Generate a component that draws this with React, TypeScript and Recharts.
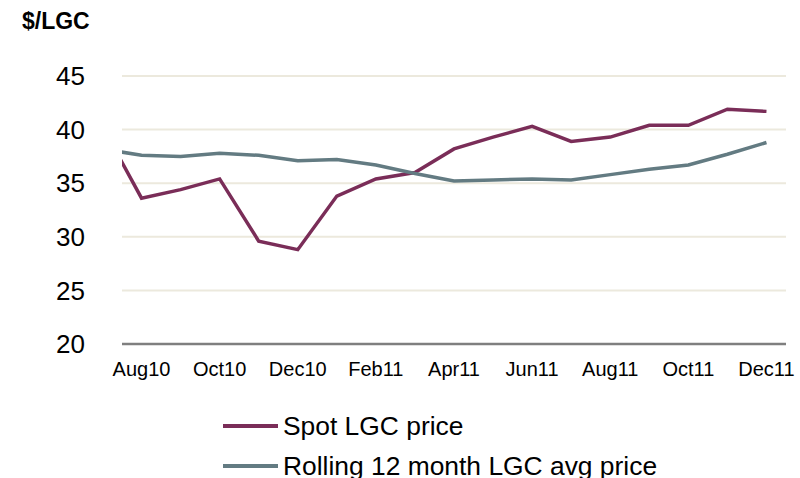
import { CartesianGrid, Line, LineChart, XAxis, YAxis } from "recharts";

// Jul10 sits just left of the plot and is clipped, so only the tail of its segment shows
const months = [
    "Jul10", "Aug10", "Sep10", "Oct10", "Nov10", "Dec10", "Jan11", "Feb11", "Mar11",
    "Apr11", "May11", "Jun11", "Jul11", "Aug11", "Sep11", "Oct11", "Nov11", "Dec11",
];
const spotPrice = [
    40.3, 33.6, 34.4, 35.4, 29.6, 28.8, 33.8, 35.4, 36.0,
    38.2, 39.3, 40.3, 38.9, 39.3, 40.4, 40.4, 41.9, 41.7,
];
const rollingAvg = [
    38.2, 37.6, 37.5, 37.8, 37.6, 37.1, 37.2, 36.7, 35.9,
    35.2, 35.3, 35.4, 35.3, 35.8, 36.3, 36.7, 37.7, 38.8,
];
const yTicks = [20, 25, 30, 35, 40, 45];
const xTicks = [0, 2, 4, 6, 8, 10, 12, 14, 16];

const series = [
    { key: "spot", name: "Spot LGC price", color: "#7a2d58" },
    { key: "rolling", name: "Rolling 12 month LGC avg price", color: "#637b82" },
];

const data = months.map((m, i) => ({
    idx: i - 1,
    month: m,
    spot: spotPrice[i],
    rolling: rollingAvg[i],
}));

const font = "'Liberation Sans', Arial, sans-serif";

export default function App() {
    return (
        <div style={{ position: "absolute", left: 0, top: 0, width: 800, height: 478, background: "#fff", fontFamily: font, overflow: "hidden" }}>
            <div style={{ position: "absolute", left: 22, top: 8, fontSize: 23, fontWeight: "bold", color: "#000" }}>
                $/LGC
            </div>
            <LineChart width={800} height={478} data={data} margin={{ top: 76, right: 14, bottom: 104, left: 0 }}>
                <CartesianGrid vertical={false} stroke="#ece9dd" strokeWidth={2} />
                <XAxis
                    dataKey="idx"
                    type="number"
                    domain={[-0.5, 16.5]}
                    allowDataOverflow
                    ticks={xTicks}
                    tickFormatter={(v: number) => months[v + 1]}
                    axisLine={{ stroke: "#7f7f7f", strokeWidth: 2.5 }}
                    tickLine={false}
                    tickSize={0}
                    tickMargin={18}
                    height={30}
                    tick={{ fontSize: 20, fill: "#000", fontFamily: font }}
                    interval={0}
                />
                <YAxis
                    domain={[20, 45]}
                    ticks={yTicks}
                    axisLine={false}
                    tickLine={false}
                    tickSize={0}
                    tickMargin={37}
                    width={122}
                    tick={{ fontSize: 26, fill: "#000", fontFamily: font }}
                />
                {series.map((s) => (
                    <Line
                        key={s.key}
                        dataKey={s.key}
                        name={s.name}
                        stroke={s.color}
                        strokeWidth={3.5}
                        dot={false}
                        activeDot={false}
                        type="linear"
                        isAnimationActive={false}
                    />
                ))}
            </LineChart>
            {series.map((s, i) => (
                <div
                    key={s.key}
                    style={{
                        position: "absolute",
                        left: 223,
                        top: 406 + i * 40,
                        height: 40,
                        lineHeight: "40px",
                        display: "flex",
                        alignItems: "center",
                        fontSize: 26.4,
                        color: "#000",
                        whiteSpace: "nowrap",
                    }}
                >
                    <span style={{ display: "inline-block", width: 55, height: 4, background: s.color, marginRight: 5 }} />
                    {s.name}
                </div>
            ))}
        </div>
    );
}
